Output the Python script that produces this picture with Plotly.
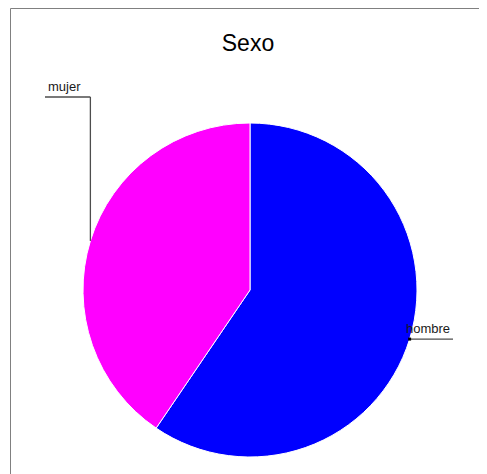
import math
import plotly.graph_objects as go

# Data
categories = ["hombre", "mujer"]
counts = [119, 81]
colors = ["#0000FF", "#FF00FF"]
title_text = "Sexo"

W, H = 487, 474
OFF = 8  # page body margin offset
# pie geometry (pixels in the screenshot)
CX, CY, R = 250, 290, 167

def px(x):
    return (x - OFF) / W

def py(y):
    return 1 - (y - OFF) / H

fig = go.Figure(go.Pie(
    labels=categories,
    values=counts,
    sort=False,
    direction="clockwise",
    rotation=0,
    textinfo="none",
    marker=dict(colors=colors, line=dict(color="white", width=1)),
    domain=dict(x=[px(CX - R), px(CX + R)], y=[py(CY + R), py(CY - R)]),
    showlegend=False,
))

# leader lines computed from slice mid-angles
total = sum(counts)
cum = 0
shapes = []
annotations = []
line_style = dict(color="#4d4d4d", width=1.3)
font = dict(family="Liberation Sans, Arial", size=13, color="#1a1a1a")
for lab, v in zip(categories, counts):
    a = 2 * math.pi * (cum + v / 2) / total
    cum += v
    ex = CX + R * math.sin(a)
    ey = CY - R * math.cos(a)
    if ex < CX:
        elbow_y = 97
        end_x = 45
        shapes.append(dict(type="line", xref="paper", yref="paper",
                           x0=px(ex), y0=py(ey), x1=px(ex), y1=py(elbow_y), line=line_style))
        shapes.append(dict(type="line", xref="paper", yref="paper",
                           x0=px(ex), y0=py(elbow_y), x1=px(end_x), y1=py(elbow_y), line=line_style))
        annotations.append(dict(text=lab, xref="paper", yref="paper", x=px(end_x + 1), y=py(elbow_y - 1),
                                xanchor="left", yanchor="bottom", showarrow=False, font=font))
    else:
        end_x = 453
        ly = ey
        shapes.append(dict(type="line", xref="paper", yref="paper",
                           x0=px(ex), y0=py(ly), x1=px(end_x), y1=py(ly), line=line_style))
        shapes.append(dict(type="rect", xref="paper", yref="paper",
                           x0=px(ex - 1.5), y0=py(ly - 1.5), x1=px(ex + 1.5), y1=py(ly + 1.5),
                           line=dict(width=0), fillcolor="black"))
        annotations.append(dict(text=lab, xref="paper", yref="paper", x=px(end_x - 1), y=py(ly - 1),
                                xanchor="right", yanchor="bottom", showarrow=False, font=font))

# outer frame
shapes.append(dict(type="rect", xref="paper", yref="paper",
                   x0=px(10.5), y0=py(8.5), x1=px(W + 30), y1=py(H + 30),
                   line=dict(color="#808080", width=1), layer="below"))

fig.update_layout(
    width=W, height=H,
    margin=dict(l=0, r=0, t=0, b=0),
    paper_bgcolor="white",
    plot_bgcolor="white",
    title=dict(text=title_text, x=px(248), xanchor="center", y=py(43), yanchor="middle",
               font=dict(family="Liberation Sans, Arial", size=23, color="black")),
    shapes=shapes,
    annotations=annotations,
)

fig.write_html("out.html")
